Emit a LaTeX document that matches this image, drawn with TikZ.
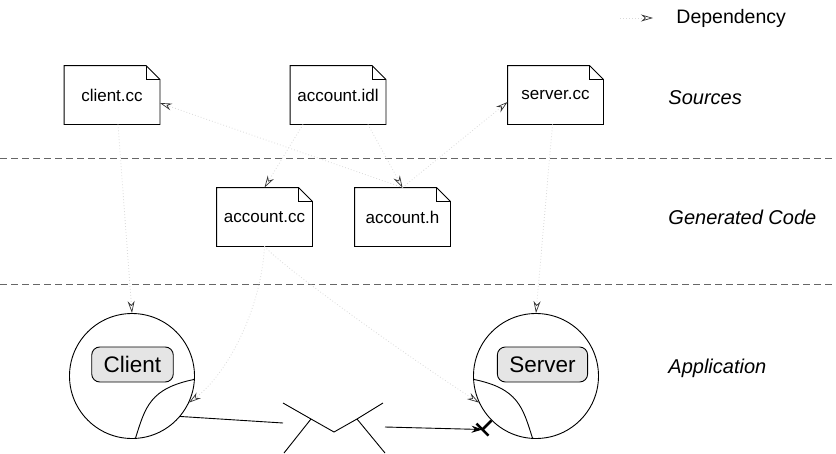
\documentclass[tikz,border=0pt]{standalone}
\usepackage{fontspec}
\setmainfont{Liberation Sans}
\usetikzlibrary{arrows.meta,calc,positioning}

\tikzset{
  srcfile/.style={minimum width=95pt, minimum height=58pt, inner sep=0pt, font=\fontsize{17}{20}\selectfont},
  component/.style={circle, draw, minimum size=125pt, inner sep=0pt},
  complabel/.style={draw, rounded corners=8pt, fill=gray!20, minimum height=35pt, inner xsep=12pt, font=\fontsize{22.5}{26}\selectfont},
  layer/.style={anchor=west, inner sep=0pt, font=\fontsize{20}{24}\selectfont\itshape},
  dep/.style={gray!30, dash pattern=on 0.8pt off 2.2pt, line width=0.8pt, -{Stealth[open, length=12pt, width=7pt, color=black!80, line width=0.7pt]}},
  sep/.style={gray!80!black, dash pattern=on 7pt off 4pt, line width=0.9pt},
  plug/.style={line width=2.5pt},
}

% file with folded corner
\newcommand{\docfile}[3]{%
  \node[srcfile] (#1) at (#2) {#3};
  \draw (#1.south west) -- (#1.north west) -- ([xshift=-14pt]#1.north east) -- ([yshift=-14pt]#1.north east) -- (#1.south east) -- cycle;
  \draw ([xshift=-14pt]#1.north east) |- ([yshift=-14pt]#1.north east);
}

\begin{document}
\begin{tikzpicture}[x=1pt, y=-1pt, line width=0.9pt]
      \useasboundingbox (0,0) rectangle (836,453);
      % legend
      \node[anchor=west, inner sep=0pt, font=\fontsize{19.5}{23}\selectfont] (legend) at (676,18) {Dependency};
      \coordinate (legstart) at (620,18);
      \draw[dep] (legstart) -- ([xshift=-23pt]legend.west);
      % layers
      \draw[sep] (0,158) -- (836,158);
      \draw[sep] (0,284) -- (836,284);
      \node[layer] (sources) at (668,98) {Sources};
      \node[layer] (generated) at (668,217) {Generated Code};
      \node[layer] (application) at (668,368) {Application};
      % files
      \docfile{clientcc}{112,95}{client.cc}
      \docfile{accountidl}{338,95}{account.idl}
      \docfile{servercc}{555.5,95}{server.cc}
      \docfile{accountcc}{264.5,217}{account.cc}
      \docfile{accounth}{402.5,217}{account.h}
      % components
      \node[component] (client) at (132,376) {};
      \node[component] (server) at (536,376) {};
      \node[complabel] (clientlbl) at (132.5,364.5) {Client};
      \node[complabel] (serverlbl) at (542.5,364.5) {Server};
      \draw (client.-3) .. controls +(-45,9) and +(10,-32) .. (client.-87);
      \draw (server.183) .. controls +(45,9) and +(-10,-32) .. (server.-93);
      % dependencies
      \draw[dep] ([xshift=-35pt]accountidl.south) -- (accountcc.north);
      \draw[dep] ([xshift=30pt]accountidl.south) -- (accounth.north);
      \draw[dep] (accounth.north) -- ([yshift=-8pt]clientcc.east);
      \draw[dep] (accounth.north) -- ([yshift=-7pt]servercc.west);
      \draw[dep] ([xshift=6pt]clientcc.south) -- (client.north);
      \draw[dep] ([xshift=-3pt]servercc.south) -- (server.north);
      \draw[dep] (accountcc.south) .. controls +(-3,60) and +(40,-30) .. (client.-25);
      \draw[dep] (accountcc.south) .. controls +(20,22) and +(-70,-45) .. (server.205);
      % hub
      \coordinate (hubL) at (283,423);
      \coordinate (hubR) at (385,427);
      \draw (283,403) -- (311,419) -- (334,432) -- (357,419) -- (383,403);
      \draw (311,419) -- (284,453);
      \draw (357,419) -- (385,453);
      \draw (client.-40) -- (hubL);
      % socket on server
      \coordinate (sockbase) at (server.-135);
      \coordinate (socktip) at ($(sockbase)+(-9,9)$);
      \draw[plug] (sockbase) -- (socktip);
      \draw[plug] ($(socktip)+(-6,-6)$) -- ($(socktip)+(6,6)$);
      \draw[-{Stealth[length=11pt,width=7pt]}] (hubR) -- (socktip);
\end{tikzpicture}
\end{document}
